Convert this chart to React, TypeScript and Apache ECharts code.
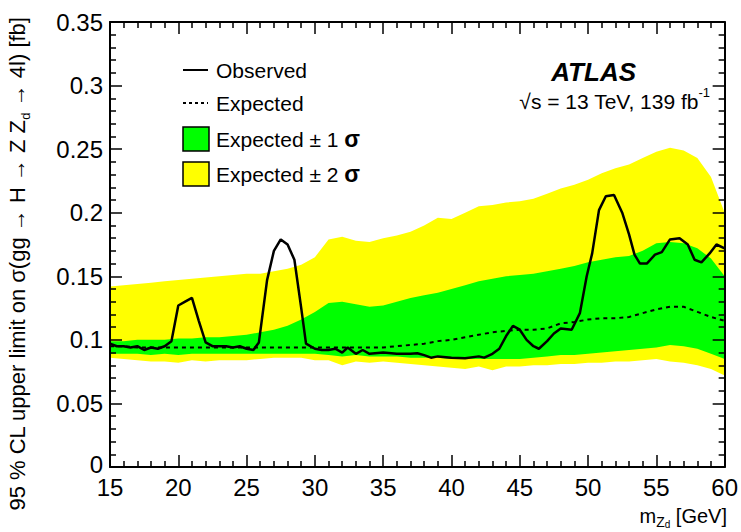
import React, { useEffect, useRef } from "react";
import * as echarts from "echarts";

const bandX = [15,16,17,18,19,20,21,22,23,24,25,26,27,28,29,30,31,32,33,34,35,36,37,38,39,40,41,42,43,44,45,46,47,48,49,50,51,52,53,54,55,56,57,58,59,60];
const yellowUpper = [0.142,0.143,0.144,0.145,0.146,0.147,0.148,0.149,0.150,0.151,0.152,0.152,0.154,0.156,0.159,0.165,0.179,0.181,0.178,0.177,0.180,0.182,0.185,0.190,0.196,0.195,0.200,0.205,0.206,0.208,0.209,0.211,0.215,0.219,0.222,0.226,0.231,0.235,0.238,0.243,0.248,0.251,0.249,0.243,0.228,0.200];
const greenUpper = [0.099,0.099,0.100,0.100,0.100,0.101,0.101,0.102,0.102,0.103,0.104,0.106,0.108,0.111,0.116,0.122,0.129,0.130,0.128,0.126,0.127,0.130,0.133,0.135,0.137,0.140,0.143,0.146,0.148,0.150,0.151,0.152,0.154,0.156,0.158,0.161,0.163,0.165,0.166,0.170,0.176,0.177,0.176,0.172,0.164,0.150];
const greenLower = [0.089,0.089,0.089,0.088,0.089,0.088,0.089,0.089,0.089,0.089,0.089,0.089,0.089,0.089,0.089,0.089,0.088,0.087,0.088,0.087,0.087,0.087,0.086,0.086,0.086,0.085,0.085,0.085,0.085,0.085,0.085,0.086,0.087,0.088,0.088,0.089,0.090,0.091,0.092,0.093,0.094,0.096,0.095,0.093,0.089,0.085];
const yellowLower = [0.086,0.085,0.084,0.083,0.083,0.082,0.084,0.083,0.084,0.084,0.084,0.085,0.086,0.086,0.086,0.084,0.084,0.080,0.083,0.082,0.083,0.082,0.081,0.080,0.079,0.078,0.077,0.079,0.076,0.079,0.079,0.080,0.080,0.081,0.081,0.082,0.082,0.083,0.083,0.084,0.085,0.083,0.082,0.080,0.077,0.072];
const expected = [0.095,0.095,0.094,0.094,0.094,0.094,0.094,0.094,0.094,0.094,0.094,0.094,0.094,0.094,0.094,0.094,0.094,0.094,0.094,0.094,0.094,0.095,0.096,0.097,0.099,0.100,0.102,0.104,0.106,0.107,0.108,0.108,0.109,0.113,0.114,0.116,0.117,0.117,0.118,0.121,0.124,0.126,0.126,0.122,0.118,0.115];

const observedX = [15,15.5,16,16.5,17,17.5,18,18.5,19,19.5,20,20.5,21,21.5,22,22.5,23,23.5,24,24.5,25,25.5,25.9,26.5,27,27.5,28,28.5,29,29.35,30,30.5,31,31.5,32,32.4,33,33.5,34,35,36,37,37.5,38,38.5,39,40,41,42,42.4,43,43.5,44,44.5,45,45.5,46,46.4,47,47.5,48,48.8,49.4,49.9,50.3,50.8,51.3,51.9,52.5,53,53.4,53.8,54.3,54.9,55.4,56,56.7,57.3,57.8,58.3,58.9,59.4,60];
const observedY = [0.097,0.095,0.095,0.094,0.095,0.092,0.094,0.093,0.095,0.099,0.127,0.130,0.133,0.115,0.098,0.095,0.095,0.095,0.094,0.095,0.093,0.092,0.098,0.147,0.170,0.179,0.175,0.163,0.125,0.097,0.093,0.092,0.092,0.093,0.090,0.094,0.089,0.092,0.089,0.090,0.089,0.089,0.0895,0.088,0.086,0.087,0.086,0.0855,0.087,0.086,0.089,0.093,0.103,0.111,0.108,0.100,0.095,0.093,0.099,0.105,0.109,0.108,0.121,0.150,0.168,0.202,0.213,0.214,0.200,0.183,0.167,0.160,0.160,0.167,0.169,0.179,0.180,0.175,0.163,0.161,0.168,0.175,0.172];

const xTicks = { min: 15, max: 60, interval: 5 };
const yTicks = { min: 0, max: 0.35, interval: 0.05 };

const FONT = "Liberation Sans, Arial, Helvetica, sans-serif";

export default function App() {
  const ref = useRef<HTMLDivElement>(null);
  useEffect(() => {
    if (!ref.current) return;
    const chart = echarts.init(ref.current, null, { renderer: "svg" });
    const pairs = (ys: number[]) => bandX.map((x, i) => [x, ys[i]]);
    const xAxisBase = (pos: "bottom" | "top", labels: boolean) => ({
      type: "value",
      position: pos,
      min: xTicks.min,
      max: xTicks.max,
      interval: xTicks.interval,
      z: 10,
      axisLine: { show: true, onZero: false, lineStyle: { color: "#000", width: 2 } },
      axisTick: { show: true, inside: true, length: 12, lineStyle: { color: "#000", width: 1.5 } },
      minorTick: { show: true, splitNumber: 5, length: 6, lineStyle: { color: "#000", width: 1.5 } },
      splitLine: { show: false },
      minorSplitLine: { show: false },
      axisLabel: { show: labels, color: "#000", fontSize: 24, fontFamily: FONT, margin: 8 },
    });
    const yAxisBase = (pos: "left" | "right", labels: boolean) => ({
      type: "value",
      position: pos,
      min: yTicks.min,
      max: yTicks.max,
      interval: yTicks.interval,
      z: 10,
      axisLine: { show: true, onZero: false, lineStyle: { color: "#000", width: 2 } },
      axisTick: { show: true, inside: true, length: 12, lineStyle: { color: "#000", width: 1.5 } },
      minorTick: { show: true, splitNumber: 5, length: 6, lineStyle: { color: "#000", width: 1.5 } },
      splitLine: { show: false },
      minorSplitLine: { show: false },
      axisLabel: {
        show: labels, color: "#000", fontSize: 24, fontFamily: FONT, margin: 7,
        formatter: (v: number) => (v === 0 ? "{z|0}" : String(+v.toFixed(2))),
        rich: { z: { fontSize: 24, fontFamily: FONT, color: "#000", padding: [0, 0, 6, 0] } },
      },
    });
    // Bands drawn as opaque fills down to the axis, painted from the top boundary down.
    const bandSeries = (name: string, data: number[][], color: string) => ({
      name,
      type: "line",
      data,
      symbol: "none",
      z: 1,
      lineStyle: { width: 0, opacity: 0 },
      areaStyle: { color, opacity: 1, origin: "start" },
      silent: true,
    });
    chart.setOption({
      animation: false,
      backgroundColor: "#fff",
      grid: { left: 110, right: 13, top: 22, bottom: 65, containLabel: false },
      xAxis: [xAxisBase("bottom", true), xAxisBase("top", false)],
      yAxis: [yAxisBase("left", true), yAxisBase("right", false)],
      series: [
        bandSeries("Expected ± 2σ", pairs(yellowUpper), "#ffff00"),
        bandSeries("Expected ± 1σ", pairs(greenUpper), "#00ff00"),
        bandSeries("Expected ± 1σ low", pairs(greenLower), "#ffff00"),
        bandSeries("Expected ± 2σ low", pairs(yellowLower), "#ffffff"),
        {
          name: "Expected",
          type: "line",
          data: pairs(expected),
          symbol: "none",
          z: 3,
          lineStyle: { color: "#000", width: 2, type: [4, 4] },
        },
        {
          name: "Observed",
          type: "line",
          data: observedX.map((x, i) => [x, observedY[i]]),
          symbol: "none",
          z: 4,
          lineStyle: { color: "#000", width: 2.5 },
        },
      ],
      graphic: [
        { type: "line", z: 100, shape: { x1: 183, y1: 70, x2: 208, y2: 70 }, style: { stroke: "#000", lineWidth: 2 } },
        { type: "text", z: 100, x: 216, y: 70, style: { text: "Observed", fontSize: 21, fontFamily: FONT, fill: "#000", verticalAlign: "middle" } },
        { type: "line", z: 100, shape: { x1: 183, y1: 103, x2: 208, y2: 103 }, style: { stroke: "#000", lineWidth: 2, lineDash: [3, 3] } },
        { type: "text", z: 100, x: 216, y: 103, style: { text: "Expected", fontSize: 21, fontFamily: FONT, fill: "#000", verticalAlign: "middle" } },
        { type: "rect", z: 100, shape: { x: 183, y: 127, width: 26, height: 24 }, style: { fill: "#00ff00", stroke: "#000", lineWidth: 1.5 } },
        { type: "text", z: 100, x: 216, y: 139, style: { text: "Expected ± 1 {b|σ}", rich: { b: { fontSize: 23, fontWeight: "bold", fontFamily: FONT } }, fontSize: 21, fontFamily: FONT, fill: "#000", verticalAlign: "middle" } },
        { type: "rect", z: 100, shape: { x: 183, y: 162, width: 26, height: 24 }, style: { fill: "#ffff00", stroke: "#000", lineWidth: 1.5 } },
        { type: "text", z: 100, x: 216, y: 174, style: { text: "Expected ± 2 {b|σ}", rich: { b: { fontSize: 23, fontWeight: "bold", fontFamily: FONT } }, fontSize: 21, fontFamily: FONT, fill: "#000", verticalAlign: "middle" } },
        { type: "text", z: 100, x: 636, y: 72, style: { text: "ATLAS", fontSize: 26, fontWeight: "bold", fontStyle: "italic", fontFamily: FONT, fill: "#000", align: "right", verticalAlign: "middle" } },
        { type: "text", z: 100, x: 710, y: 101, style: { text: "√s = 13 TeV, 139 fb{sup|-1}", rich: { sup: { fontSize: 13, fontFamily: FONT, verticalAlign: "top", lineHeight: 30 } }, fontSize: 21, fontFamily: FONT, fill: "#000", align: "right", verticalAlign: "middle" } },
        {
          type: "text", z: 100, x: 727, y: 516,
          style: {
            text: "m{sub|Z}{subsub|d} [GeV]",
            rich: {
              sub: { fontSize: 14, fontFamily: FONT, verticalAlign: "bottom", lineHeight: 14 },
              subsub: { fontSize: 10, fontFamily: FONT, verticalAlign: "bottom", lineHeight: 8 },
            },
            fontSize: 20, lineHeight: 26, fontFamily: FONT, fill: "#000", align: "right", verticalAlign: "middle",
          },
        },
        {
          type: "text", z: 100, x: 17, y: 264, rotation: Math.PI / 2,
          style: {
            text: "95 % CL upper limit on σ(gg → H → Z Z{sub|d} → 4l) [fb]",
            rich: { sub: { fontSize: 13, fontFamily: FONT, verticalAlign: "bottom", lineHeight: 12 } },
            fontSize: 22, lineHeight: 30, fontFamily: FONT, fill: "#000", align: "center", verticalAlign: "middle",
          },
        },
      ],
    });
    return () => chart.dispose();
  }, []);
  return <div ref={ref} style={{ position: "fixed", left: 0, top: 0, width: 741, height: 532 }} />;
}
